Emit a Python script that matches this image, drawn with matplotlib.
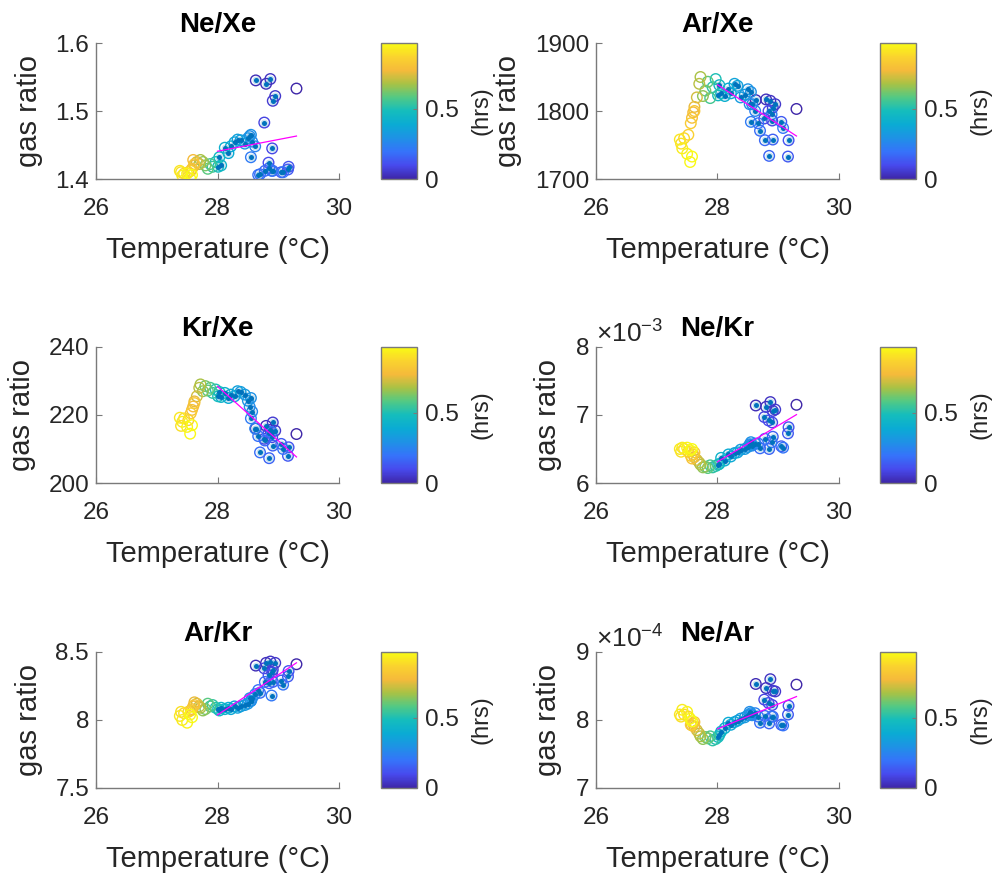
import numpy as np
import matplotlib
matplotlib.use("Agg")
import matplotlib.pyplot as plt
from matplotlib.colors import LinearSegmentedColormap, Normalize
from matplotlib.ticker import FuncFormatter, ScalarFormatter

# ---------------------------------------------------------
# data
# ---------------------------------------------------------
hours = [0.00, 0.02, 0.03, 0.04, 0.05, 0.06, 0.08, 0.09, 0.10,
         0.12, 0.13, 0.14, 0.15, 0.16, 0.17, 0.18, 0.19, 0.20, 0.21, 0.22, 0.24, 0.26,
         0.28, 0.29, 0.30, 0.32, 0.33, 0.35, 0.36, 0.38, 0.39, 0.41, 0.43, 0.45, 0.47,
         0.50, 0.53, 0.56, 0.59, 0.62, 0.65, 0.68, 0.70,
         0.73, 0.76, 0.78, 0.80, 0.82, 0.84,
         0.86, 0.88, 0.90, 0.92, 0.93, 0.95, 0.96, 0.97]

temp = [29.30, 28.63, 28.80, 28.87, 28.95, 28.91, 28.77, 28.90, 28.84,
        29.17, 29.16, 29.05, 28.91, 28.85, 28.78, 28.70, 28.67, 29.08, 28.89, 28.55, 28.62, 28.57,
        28.53, 28.55, 28.50, 28.45, 28.38, 28.33, 28.28, 28.22, 28.18, 28.12, 28.06, 28.03, 28.01,
        27.97, 27.92, 27.88, 27.84, 27.80, 27.76, 27.72, 27.70,
        27.66, 27.62, 27.60, 27.58, 27.62, 27.56,
        27.52, 27.45, 27.40, 27.38, 27.42, 27.50, 27.55, 27.58]

ne_xe = [1.533, 1.545, 1.540, 1.547, 1.522, 1.515, 1.483, 1.445, 1.424,
         1.418, 1.414, 1.410, 1.412, 1.416, 1.412, 1.407, 1.406, 1.410, 1.412, 1.432, 1.448, 1.455,
         1.463, 1.465, 1.460, 1.452, 1.457, 1.458, 1.454, 1.448, 1.438, 1.446, 1.420, 1.432, 1.418,
         1.425, 1.418, 1.422, 1.415, 1.420, 1.425, 1.428, 1.422,
         1.425, 1.420, 1.428, 1.415, 1.422, 1.412,
         1.410, 1.408, 1.410, 1.412, 1.405, 1.408, 1.401, 1.406]

ar_xe = [1803, 1816, 1817, 1815, 1810, 1805, 1789, 1786, 1800,
         1757, 1733, 1784, 1758, 1734, 1757, 1771, 1782, 1775, 1795, 1784, 1800, 1810,
         1810, 1828, 1832, 1824, 1820, 1837, 1840, 1826, 1833, 1822, 1826, 1838, 1823,
         1847, 1835, 1819, 1843, 1830, 1822, 1850, 1840,
         1820, 1806, 1798, 1790, 1800, 1782,
         1765, 1760, 1752, 1758, 1745, 1737, 1725, 1733]

kr_xe = [214.4, 216.0, 216.8, 215.6, 215.4, 217.8, 213.0, 213.5, 214.8,
         210.5, 208.0, 211.5, 211.0, 207.3, 212.5, 209.0, 213.8, 210.0, 215.0, 219.0, 216.0, 221.0,
         222.4, 225.0, 224.2, 226.0, 226.8, 227.0, 225.5, 226.0, 225.0, 226.5, 225.3, 226.8, 225.5,
         227.5, 226.5, 228.0, 227.2, 228.5, 227.0, 229.0, 228.0,
         225.5, 224.0, 222.5, 221.5, 223.5, 220.5,
         218.5, 219.0, 216.8, 219.2, 218.0, 216.5, 214.5, 217.0]

# x 1e-3
ne_kr = [7.15, 7.14, 7.12, 7.19, 7.08, 7.06, 6.97, 6.89, 6.92,
         6.82, 6.73, 6.54, 6.68, 6.50, 6.65, 6.51, 6.58, 6.52, 6.60, 6.56, 6.58, 6.55,
         6.57, 6.60, 6.53, 6.50, 6.49, 6.45, 6.44, 6.39, 6.42, 6.33, 6.37, 6.28, 6.27,
         6.25, 6.23, 6.26, 6.22, 6.24, 6.23, 6.27, 6.30,
         6.34, 6.38, 6.42, 6.36, 6.45, 6.40,
         6.46, 6.50, 6.46, 6.50, 6.52, 6.52, 6.48, 6.50]

ar_kr = [8.41, 8.40, 8.42, 8.43, 8.42, 8.37, 8.38, 8.35, 8.33,
         8.36, 8.32, 8.29, 8.28, 8.27, 8.28, 8.20, 8.22, 8.26, 8.18, 8.14, 8.19, 8.16,
         8.16, 8.14, 8.12, 8.11, 8.10, 8.09, 8.10, 8.08, 8.09, 8.08, 8.09, 8.07, 8.08,
         8.09, 8.11, 8.10, 8.12, 8.08, 8.07, 8.09, 8.10,
         8.12, 8.13, 8.10, 8.08, 8.11, 8.07,
         8.06, 8.05, 8.06, 8.03, 8.00, 7.98, 8.04, 8.02]

# x 1e-4
ne_ar = [8.52, 8.53, 8.47, 8.60, 8.42, 8.43, 8.30, 8.22, 8.25,
         8.21, 8.08, 7.93, 8.05, 7.95, 8.06, 7.96, 8.05, 7.92, 8.05, 8.08, 8.10, 8.07,
         8.12, 8.10, 8.07, 8.04, 8.02, 7.99, 7.97, 7.93, 7.96, 7.88, 7.83, 7.78, 7.75,
         7.72, 7.70, 7.76, 7.73, 7.75, 7.72, 7.76, 7.80,
         7.85, 7.90, 7.95, 7.92, 7.97, 7.93,
         8.05, 8.08, 8.05, 8.08, 8.15, 8.12, 8.02, 7.98]

titles = ["Ne/Xe", "Ar/Xe", "Kr/Xe", "Ne/Kr", "Ar/Kr", "Ne/Ar"]

# ---------------------------------------------------------
# style
# ---------------------------------------------------------
plt.rcParams['font.family'] = ['Liberation Sans', 'DejaVu Sans']
plt.rcParams['mathtext.fontset'] = 'custom'
plt.rcParams['mathtext.rm'] = 'Liberation Sans'

# parula-like colormap
parula = LinearSegmentedColormap.from_list("parula", [
    (0.00, (0.243, 0.150, 0.660)),
    (0.10, (0.280, 0.290, 0.930)),
    (0.20, (0.210, 0.450, 0.980)),
    (0.30, (0.120, 0.570, 0.900)),
    (0.40, (0.040, 0.670, 0.830)),
    (0.50, (0.080, 0.740, 0.740)),
    (0.60, (0.320, 0.790, 0.520)),
    (0.70, (0.660, 0.760, 0.270)),
    (0.80, (0.960, 0.730, 0.230)),
    (0.90, (0.980, 0.830, 0.180)),
    (1.00, (0.977, 0.984, 0.080)),
])

DOT_BLUE = (0.0, 0.447, 0.741)
TXT = '#262626'
SPINE = '#7a7a7a'
TICK_FS = 17.5
LABEL_FS = 21

W, H = 995, 873
ax_w, ax_h = 243 / W, 136 / H
col_left = [96 / W, 596 / W]
cb_left = [381 / W, 880 / W]
row_bottom = [(H - 179) / H, (H - 483) / H, (H - 788) / H]

panel_cfg = [
    (ne_xe, 1.0, (1.4, 1.6), [1.4, 1.5, 1.6], False),
    (ar_xe, 1.0, (1700, 1900), [1700, 1800, 1900], False),
    (kr_xe, 1.0, (200, 240), [200, 220, 240], False),
    (ne_kr, 1e-3, (6e-3, 8e-3), [6e-3, 7e-3, 8e-3], True),
    (ar_kr, 1.0, (7.5, 8.5), [7.5, 8, 8.5], False),
    (ne_ar, 1e-4, (7e-4, 9e-4), [7e-4, 8e-4, 9e-4], True),
]

t = np.array(hours)
x = np.array(temp)
dotted = (x >= 28.0) & (t > 0)
in_fit = x >= 28.0
norm = Normalize(vmin=0, vmax=t.max())

fig = plt.figure(figsize=(W / 100, H / 100), dpi=100)

for i, (vals, scale, ylim, yticks, sci) in enumerate(panel_cfg):
    r, c = divmod(i, 2)
    y = np.array(vals) * scale
    ax = fig.add_axes([col_left[c], row_bottom[r], ax_w, ax_h])

    ax.scatter(x, y, s=58, facecolors='none', edgecolors=parula(norm(t)),
               linewidths=1.0, zorder=3)
    ax.scatter(x[dotted], y[dotted], s=32, color=DOT_BLUE, alpha=0.22,
               linewidths=0, zorder=2)
    ax.scatter(x[dotted], y[dotted], s=13, color=DOT_BLUE, linewidths=0, zorder=4)

    # linear fit over the warm part
    k, b = np.polyfit(x[in_fit], y[in_fit], 1)
    xf = np.array([28.0, x.max()])
    ax.plot(xf, k * xf + b, color='magenta', lw=0.9, zorder=5)

    ax.set_xlim(26, 30)
    ax.set_xticks([26, 28, 30])
    ax.set_ylim(*ylim)
    ax.set_yticks(yticks)
    if sci:
        fmt = ScalarFormatter(useMathText=True)
        fmt.set_powerlimits((0, 0))
        ax.yaxis.set_major_formatter(fmt)
        ax.yaxis.get_offset_text().set_fontsize(19)
        ax.yaxis.get_offset_text().set_color(TXT)
    else:
        ax.yaxis.set_major_formatter(FuncFormatter(lambda v, p: f"{v:g}"))
    ax.xaxis.set_major_formatter(FuncFormatter(lambda v, p: f"{v:g}"))

    for s in ['top', 'right']:
        ax.spines[s].set_visible(False)
    for s in ['left', 'bottom']:
        ax.spines[s].set_color(SPINE)
        ax.spines[s].set_linewidth(1.0)
    ax.tick_params(axis='both', direction='in', length=4, color=SPINE,
                   labelsize=TICK_FS, labelcolor=TXT)
    ax.tick_params(axis='x', pad=14)
    ax.tick_params(axis='y', pad=5)

    ax.set_xlabel('Temperature (°C)', fontsize=LABEL_FS, color=TXT, labelpad=11)
    ax.set_ylabel('gas ratio', fontsize=LABEL_FS, color=TXT, labelpad=9)
    ax.set_title(titles[i], fontsize=20, fontweight='bold', y=1.0, pad=8)

    cax = fig.add_axes([cb_left[c], row_bottom[r], 36 / W, ax_h])
    sm = plt.cm.ScalarMappable(norm=norm, cmap=parula)
    cb = fig.colorbar(sm, cax=cax)
    cb.set_ticks([0, 0.5])
    cb.ax.yaxis.set_major_formatter(FuncFormatter(lambda v, p: f"{v:g}"))
    cb.ax.tick_params(direction='in', length=3, color=SPINE, labelsize=TICK_FS,
                      labelcolor=TXT, pad=6)
    cb.outline.set_edgecolor(SPINE)
    cb.outline.set_linewidth(1.0)
    cb.set_label('(hrs)', fontsize=17, color=TXT, labelpad=8)

fig.savefig('out.png', dpi=100)
